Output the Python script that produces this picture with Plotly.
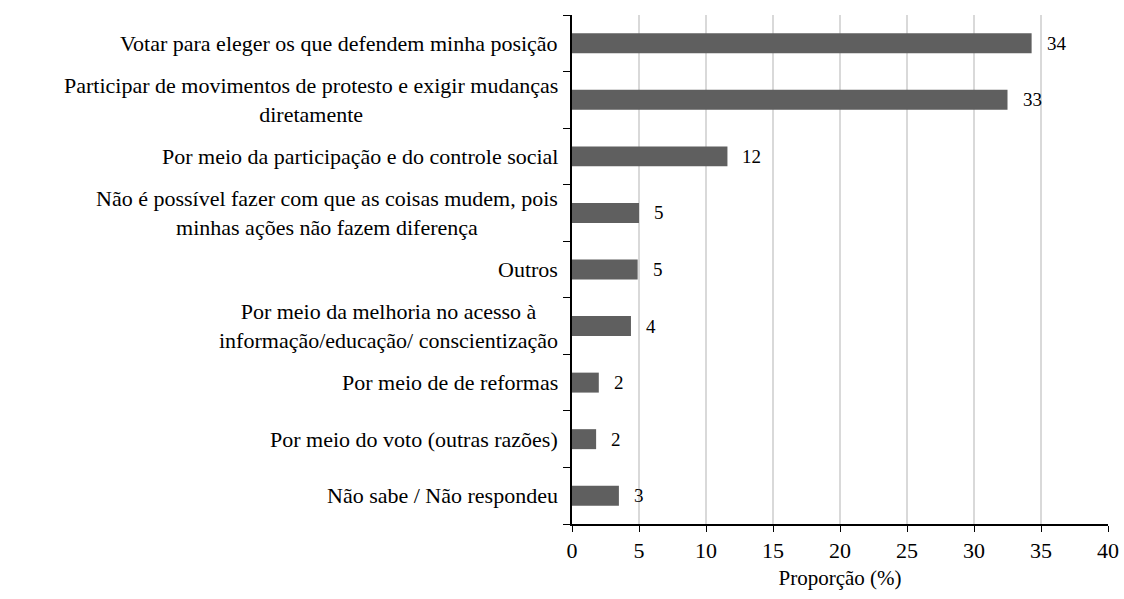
import plotly.graph_objects as go

categories = [
    "Votar para eleger os que defendem minha posição",
    "Participar de movimentos de protesto e exigir mudanças<br>diretamente",
    "Por meio da participação e do controle social",
    "Não é possível fazer com que as coisas mudem, pois<br>minhas ações não fazem diferença",
    "Outros",
    "Por meio da melhoria no acesso à<br>informação/educação/ conscientização",
    "Por meio de de reformas",
    "Por meio do voto (outras razões)",
    "Não sabe / Não respondeu",
]
values = [34.3, 32.5, 11.6, 5.0, 4.9, 4.4, 2.0, 1.8, 3.5]
value_labels = ["34", "33", "12", "5", "5", "4", "2", "2", "3"]
x_ticks = [0, 5, 10, 15, 20, 25, 30, 35, 40]

FONT = "Liberation Serif, Times New Roman, Tinos, DejaVu Serif, serif"

fig = go.Figure(go.Bar(
    x=values, y=categories, orientation="h",
    marker=dict(color="#5f5f5f", line=dict(width=0)),
    hoverinfo="skip",
))

# rótulos de valor à direita das barras
for cat, v, lab in zip(categories, values, value_labels):
    fig.add_annotation(
        x=v, y=cat, text=lab, showarrow=False,
        xanchor="left", xshift=13, font=dict(family=FONT, size=19, color="black"),
    )

# rótulos das categorias centralizados (multilinha)
for cat in categories:
    fig.add_annotation(
        x=0, xref="paper", y=cat, text=cat, showarrow=False,
        xanchor="right", align="center", xshift=-12,
        font=dict(family=FONT, size=22, color="black"),
    )

fig.update_layout(
    width=1124, height=599,
    margin=dict(l=572, r=16, t=15, b=75, autoexpand=False),
    paper_bgcolor="white", plot_bgcolor="white",
    bargap=0.647, showlegend=False,
    font=dict(family=FONT, size=22, color="black"),
)
fig.update_xaxes(
    range=[0, 40], tickvals=x_ticks, ticks="outside", ticklen=6,
    tickcolor="black", showline=True, linecolor="black", linewidth=1.5,
    showgrid=True, gridcolor="#d9d9d9", gridwidth=2, zeroline=False,
    title=dict(text="Proporção (%)", font=dict(family=FONT, size=21), standoff=8),
    tickfont=dict(family=FONT, size=22), automargin=False,
)
fig.update_yaxes(
    categoryorder="array", categoryarray=categories[::-1],
    showticklabels=False, ticks="outside", ticklen=7, tickcolor="black",
    tickson="boundaries", showline=True, linecolor="black", linewidth=1.5,
    showgrid=False, zeroline=False, automargin=False,
)

# tirar a margem padrão do body para a figura ocupar a janela inteira
fig.write_html(
    "out.html",
    config={"displayModeBar": False},
    post_script="document.body.style.margin='0';document.body.style.overflow='hidden';",
)
